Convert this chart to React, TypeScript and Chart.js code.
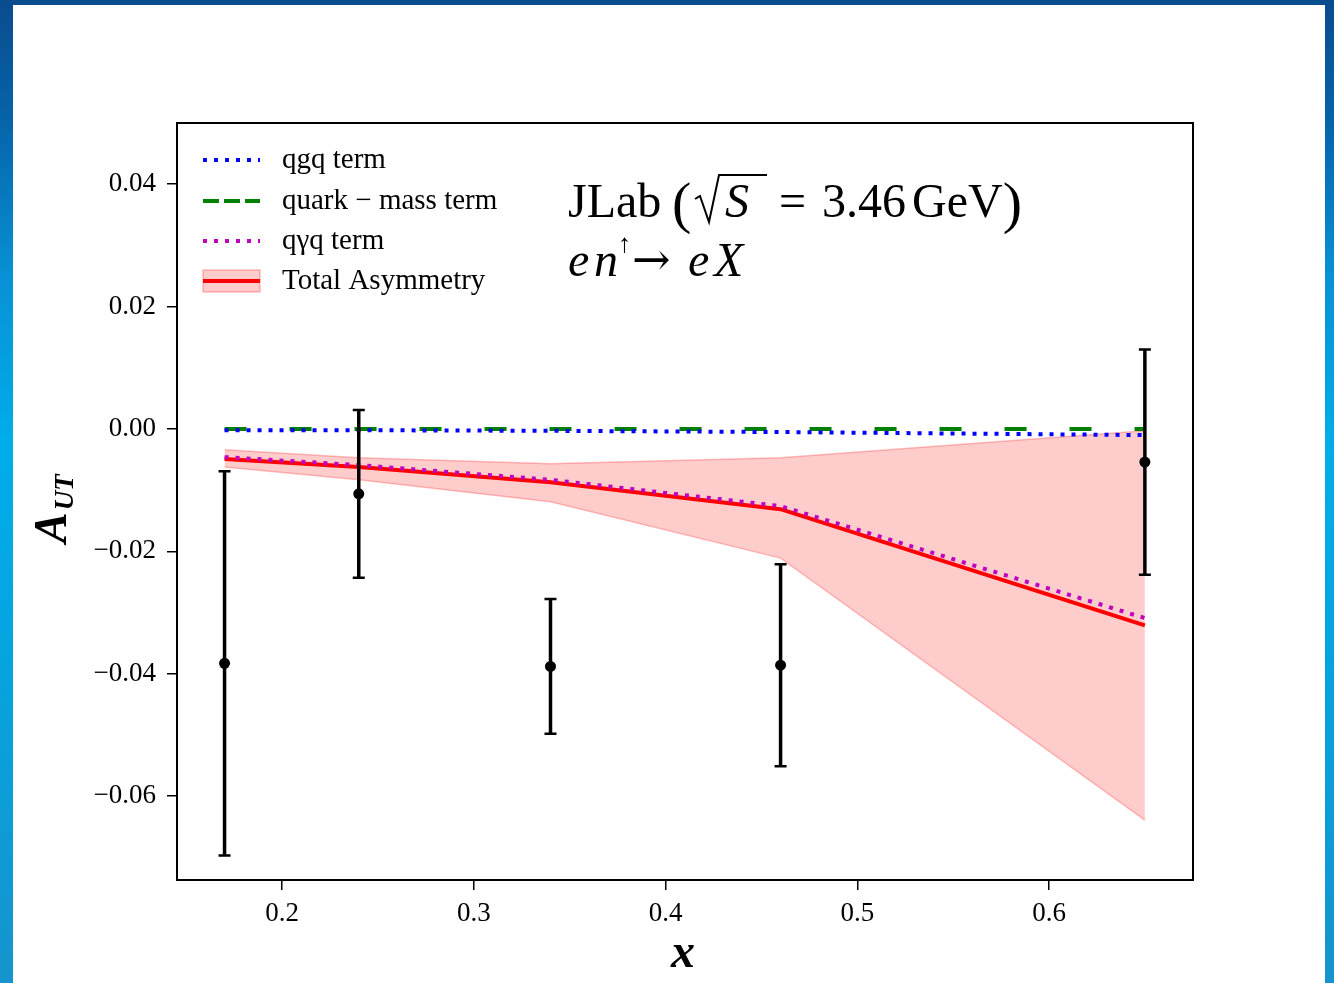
import React, { useEffect, useRef } from "react";
import { Chart, registerables } from "chart.js";

Chart.register(...registerables);

// ---------------- data ----------------
const xGrid = [0.17, 0.24, 0.34, 0.46, 0.65];
const qgqTerm = [-0.0002, -0.0002, -0.0003, -0.0005, -0.001];
const quarkMassTerm = [0, 0, 0, 0, 0];
const qGammaQTerm = [-0.0046, -0.0059, -0.0083, -0.0126, -0.0309];
const totalAsymmetry = [-0.0049, -0.0062, -0.0087, -0.0131, -0.0321];
const bandUpper = [-0.0034, -0.0047, -0.0057, -0.0047, -0.0003];
const bandLower = [-0.0062, -0.0083, -0.0119, -0.0211, -0.0639];

const dataX = [0.17, 0.24, 0.34, 0.46, 0.65];
const dataY = [-0.0383, -0.0106, -0.0388, -0.0386, -0.0054];
const dataErr = [0.0314, 0.0137, 0.011, 0.0165, 0.0184];

const yTickValues = [0.04, 0.02, 0, -0.02, -0.04, -0.06];
const yTickLabels = ["0.04", "0.02", "0.00", "\u22120.02", "\u22120.04", "\u22120.06"];
const xTickValues = [0.2, 0.3, 0.4, 0.5, 0.6];
const xTickLabels = ["0.2", "0.3", "0.4", "0.5", "0.6"];

const legendLabels = ["qgq term", "quark \u2212 mass term", "q\u03b3q term", "Total Asymmetry"];

const X_MIN = 0.1452;
const X_MAX = 0.6751;
const Y_MIN = -0.0737;
const Y_MAX = 0.05;

const SERIF = "'Liberation Serif', 'DejaVu Serif', serif";
const POINTS_INDEX = 6;

const toXY = (xs: number[], ys: number[]) => xs.map((x, i) => ({ x, y: ys[i] }));

const errorBarPlugin = {
  id: "errorBars",
  beforeDatasetDraw(chart: any, args: any) {
    if (args.index !== POINTS_INDEX) return;
    const { ctx } = chart;
    const xs = chart.scales.x;
    const ys = chart.scales.y;
    ctx.save();
    ctx.strokeStyle = "#000";
    dataX.forEach((xv, i) => {
      const px = xs.getPixelForValue(xv);
      const top = ys.getPixelForValue(dataY[i] + dataErr[i]);
      const bot = ys.getPixelForValue(dataY[i] - dataErr[i]);
      ctx.lineWidth = 3.5;
      ctx.beginPath();
      ctx.moveTo(px, top);
      ctx.lineTo(px, bot);
      ctx.stroke();
      ctx.lineWidth = 2.5;
      ctx.beginPath();
      ctx.moveTo(px - 6, top);
      ctx.lineTo(px + 6, top);
      ctx.moveTo(px - 6, bot);
      ctx.lineTo(px + 6, bot);
      ctx.stroke();
    });
    ctx.restore();
  },
};

const decorPlugin = {
  id: "decor",
  afterDraw(chart: any) {
    const { ctx, chartArea } = chart;
    ctx.save();
    // frame
    ctx.strokeStyle = "#000";
    ctx.lineWidth = 2;
    ctx.setLineDash([]);
    ctx.strokeRect(chartArea.left, chartArea.top, chartArea.right - chartArea.left, chartArea.bottom - chartArea.top);

    // legend
    const hx0 = 203;
    const hx1 = 260;
    const tx = 282;
    const rows = [160, 201, 241, 281];
    ctx.lineCap = "butt";
    ctx.strokeStyle = "#0000ff";
    ctx.lineWidth = 4;
    ctx.setLineDash([4, 7]);
    ctx.beginPath();
    ctx.moveTo(hx0, rows[0]);
    ctx.lineTo(hx1, rows[0]);
    ctx.stroke();
    ctx.strokeStyle = "#008000";
    ctx.lineWidth = 4;
    ctx.setLineDash([16, 5]);
    ctx.beginPath();
    ctx.moveTo(hx0, rows[1]);
    ctx.lineTo(hx1, rows[1]);
    ctx.stroke();
    ctx.strokeStyle = "#bf00bf";
    ctx.lineWidth = 4;
    ctx.setLineDash([4, 7]);
    ctx.beginPath();
    ctx.moveTo(hx0, rows[2]);
    ctx.lineTo(hx1, rows[2]);
    ctx.stroke();
    ctx.setLineDash([]);
    ctx.fillStyle = "rgba(255,0,0,0.2)";
    ctx.fillRect(hx0, rows[3] - 11, hx1 - hx0, 22);
    ctx.strokeStyle = "rgba(255,0,0,0.25)";
    ctx.lineWidth = 1.5;
    ctx.strokeRect(hx0, rows[3] - 11, hx1 - hx0, 22);
    ctx.strokeStyle = "#ff0000";
    ctx.lineWidth = 4;
    ctx.beginPath();
    ctx.moveTo(hx0, rows[3]);
    ctx.lineTo(hx1, rows[3]);
    ctx.stroke();

    ctx.fillStyle = "#000";
    ctx.font = `29px ${SERIF}`;
    ctx.textBaseline = "alphabetic";
    ctx.textAlign = "left";
    legendLabels.forEach((t, i) => ctx.fillText(t, tx, rows[i] + 8));

    // title line 1
    const b1 = 217;
    let cx = 568;
    ctx.font = `48px ${SERIF}`;
    ctx.fillText("JLab", cx, b1);
    ctx.font = `58px ${SERIF}`;
    ctx.fillText("(", 672, b1 + 5);
    ctx.strokeStyle = "#000";
    ctx.lineWidth = 2;
    ctx.beginPath();
    ctx.moveTo(695, 199);
    ctx.lineTo(700, 196);
    ctx.lineTo(709, 222);
    ctx.lineTo(719, 175);
    ctx.lineTo(767, 175);
    ctx.stroke();
    ctx.font = `italic 48px ${SERIF}`;
    ctx.fillText("S", 725, b1);
    ctx.font = `48px ${SERIF}`;
    ctx.fillText("=", 779, b1);
    cx = 822;
    ctx.fillText("3.46", cx, b1);
    cx += ctx.measureText("3.46").width + 6;
    ctx.fillText("GeV", cx, b1);
    cx += ctx.measureText("GeV").width;
    ctx.font = `58px ${SERIF}`;
    ctx.fillText(")", cx, b1 + 5);

    // title line 2
    const b2 = 276;
    ctx.font = `italic 48px ${SERIF}`;
    ctx.fillText("e", 568, b2);
    ctx.fillText("n", 594, b2);
    ctx.font = `26px ${SERIF}`;
    ctx.fillText("\u2191", 618, b2 - 24);
    ctx.font = `46px 'DejaVu Serif', serif`;
    ctx.fillText("\u2192", 632, b2 - 1);
    ctx.font = `italic 48px ${SERIF}`;
    ctx.fillText("e", 688, b2);
    ctx.fillText("X", 714, b2);

    // y label
    ctx.save();
    ctx.translate(66, 543);
    ctx.rotate(-Math.PI / 2);
    ctx.font = `bold italic 46px ${SERIF}`;
    ctx.fillText("A", 0, 0);
    const aw = ctx.measureText("A").width;
    ctx.font = `bold italic 27px ${SERIF}`;
    ctx.fillText("UT", aw + 2, 7);
    ctx.restore();

    // x label
    ctx.font = `bold italic 48px ${SERIF}`;
    ctx.textAlign = "center";
    ctx.fillText("x", 683, 967);
    ctx.restore();
  },
};

export default function App() {
  const canvasRef = useRef<HTMLCanvasElement | null>(null);

  useEffect(() => {
    const canvas = canvasRef.current;
    if (!canvas) return;
    const dotted = { borderDash: [4, 7], borderWidth: 4 };
    const chart = new Chart(canvas, {
      type: "line",
      data: {
        datasets: [
          {
            label: "band upper",
            data: toXY(xGrid, bandUpper),
            borderColor: "rgba(255,0,0,0.25)",
            borderWidth: 1.5,
            backgroundColor: "rgba(255,0,0,0.2)",
            fill: "+1",
            pointRadius: 0,
            tension: 0,
            order: 10,
          },
          {
            label: "band lower",
            data: toXY(xGrid, bandLower),
            borderColor: "rgba(255,0,0,0.25)",
            borderWidth: 1.5,
            fill: false,
            pointRadius: 0,
            tension: 0,
            order: 10,
          },
          {
            label: legendLabels[1],
            data: toXY(xGrid, quarkMassTerm),
            borderColor: "#008000",
            borderWidth: 4,
            borderDash: [22, 43],
            pointRadius: 0,
            fill: false,
            order: 6,
          },
          {
            label: legendLabels[0],
            data: toXY(xGrid, qgqTerm),
            borderColor: "#0000ff",
            ...dotted,
            pointRadius: 0,
            fill: false,
            order: 5,
          },
          {
            label: legendLabels[3],
            data: toXY(xGrid, totalAsymmetry),
            borderColor: "#ff0000",
            borderWidth: 4,
            pointRadius: 0,
            fill: false,
            order: 4,
          },
          {
            label: legendLabels[2],
            data: toXY(xGrid, qGammaQTerm),
            borderColor: "#bf00bf",
            ...dotted,
            pointRadius: 0,
            fill: false,
            order: 3,
          },
          {
            label: "data",
            data: toXY(dataX, dataY),
            showLine: false,
            pointRadius: 5.5,
            pointBackgroundColor: "#000",
            pointBorderColor: "#000",
            pointBorderWidth: 0,
            fill: false,
            order: 1,
          },
        ],
      },
      options: {
        animation: false,
        responsive: true,
        maintainAspectRatio: false,
        devicePixelRatio: 1,
        events: [],
        layout: { padding: { top: 123, right: 141, left: 0, bottom: 0 } },
        plugins: {
          legend: { display: false },
          tooltip: { enabled: false },
          title: { display: false },
        },
        scales: {
          x: {
            type: "linear",
            min: X_MIN,
            max: X_MAX,
            border: { display: false },
            grid: { drawOnChartArea: false, drawTicks: true, tickLength: 10, color: "#000", lineWidth: 1.5 },
            afterBuildTicks: (axis: any) => {
              axis.ticks = xTickValues.map((v) => ({ value: v }));
            },
            afterFit: (axis: any) => {
              axis.height = 103;
            },
            ticks: {
              autoSkip: false,
              maxRotation: 0,
              padding: 8,
              color: "#000",
              font: { family: SERIF, size: 27 },
              callback: (_v: any, i: number) => xTickLabels[i],
            },
          },
          y: {
            type: "linear",
            min: Y_MIN,
            max: Y_MAX,
            border: { display: false },
            grid: { drawOnChartArea: false, drawTicks: true, tickLength: 10, color: "#000", lineWidth: 1.5 },
            afterBuildTicks: (axis: any) => {
              axis.ticks = yTickValues.map((v) => ({ value: v }));
            },
            afterFit: (axis: any) => {
              axis.width = 177;
            },
            ticks: {
              autoSkip: false,
              padding: 11,
              color: "#000",
              font: { family: SERIF, size: 27 },
              callback: (_v: any, i: number) => yTickLabels[i],
            },
          },
        },
      },
      plugins: [errorBarPlugin, decorPlugin],
    } as any);
    return () => chart.destroy();
  }, []);

  return (
    <div
      style={{
        position: "fixed",
        left: 0,
        top: 0,
        width: 1334,
        height: 983,
        overflow: "hidden",
        background:
          "linear-gradient(180deg, #0a4c8e 0%, #0663a9 12%, #0891d4 28%, #00adea 45%, #05a5e0 65%, #1594cd 100%)",
      }}
    >
      <div style={{ position: "absolute", left: 13, top: 5, width: 1312, height: 978, background: "#fff" }} />
      <div style={{ position: "absolute", left: 0, top: 0, width: 1334, height: 983 }}>
        <canvas ref={canvasRef} />
      </div>
    </div>
  );
}
